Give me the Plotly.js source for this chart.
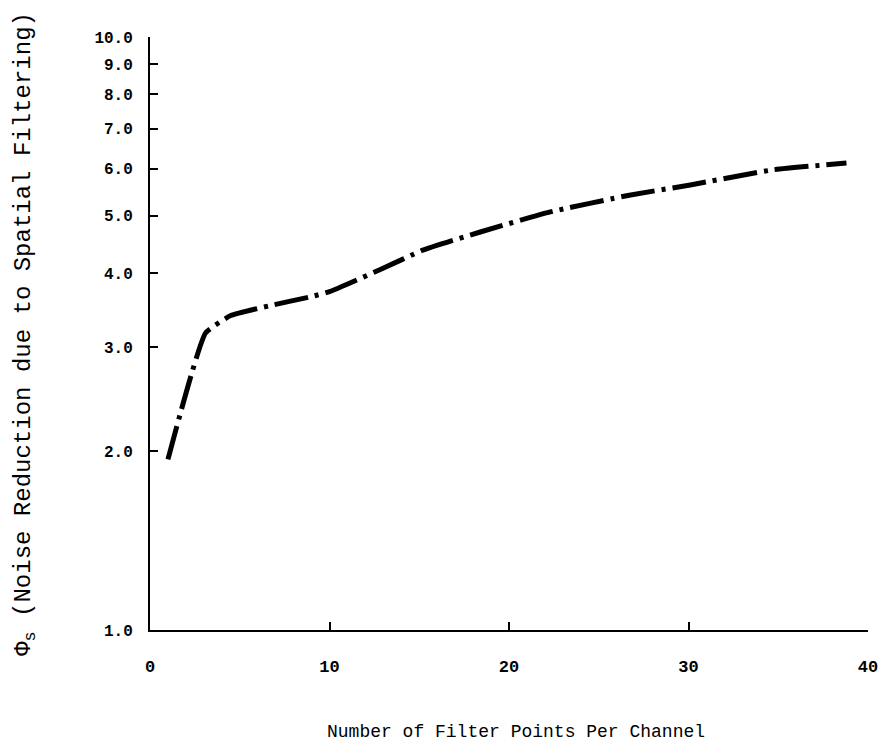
<!DOCTYPE html>
<html>
<head>
<meta charset="utf-8">
<script src="https://cdn.plot.ly/plotly-3.0.1.min.js"></script>
<style>html,body{margin:0;padding:0;background:#fff;}#chart{width:885px;height:742px;}</style>
</head>
<body>
<div id="chart"></div>
<script>
// Data
const filterPoints = [1, 3.1, 4.5, 6.8, 9, 10, 12.8, 15.2, 18.4, 22.3, 26.7, 30.1, 34.7, 38.8];
const noiseReduction = [1.94, 3.17, 3.39, 3.53, 3.65, 3.72, 4.05, 4.37, 4.69, 5.07, 5.41, 5.63, 5.97, 6.13];
const yTickVals = [1, 2, 3, 4, 5, 6, 7, 8, 9, 10];
const yTickText = ["1.0", "2.0", "3.0", "4.0", "5.0", "6.0", "7.0", "8.0", "9.0", "10.0"];
const xTickVals = [0, 10, 20, 30, 40];
const xTickText = ["0", "10", "20", "30", "40"];
const xTitle = "Number of Filter Points Per Channel";
const yTitle = "\u03A6<sub>s</sub> (Noise Reduction due to Spatial Filtering)";

const mono = "Liberation Mono, DejaVu Sans Mono, monospace";

const trace = {
  x: filterPoints,
  y: noiseReduction,
  type: "scatter",
  mode: "lines",
  line: {color: "#000", width: 5, dash: "34px,7px,4px,7px", shape: "spline", smoothing: 0.4},
  hoverinfo: "x+y",
  showlegend: false
};

const layout = {
  width: 885,
  height: 742,
  margin: {l: 150, r: 17, t: 37, b: 112},
  paper_bgcolor: "#fff",
  plot_bgcolor: "#fff",
  font: {family: mono, color: "#000"},
  xaxis: {
    range: [0, 40],
    tickvals: xTickVals,
    ticktext: xTickText,
    ticks: "inside",
    ticklen: 8,
    tickwidth: 2,
    tickcolor: "#000",
    showline: true,
    linecolor: "#000",
    linewidth: 2,
    showgrid: false,
    zeroline: false,
    ticklabelstandoff: 20,
    tickfont: {family: mono, size: 17, color: "#000", weight: "bold"}
  },
  yaxis: {
    type: "log",
    range: [0, 1],
    tickvals: yTickVals,
    ticktext: yTickText,
    ticks: "inside",
    ticklen: 8,
    tickwidth: 2,
    tickcolor: "#000",
    showline: true,
    linecolor: "#000",
    linewidth: 2,
    showgrid: false,
    zeroline: false,
    ticklabelstandoff: 12,
    tickfont: {family: mono, size: 16, color: "#000", weight: "bold"}
  },
  annotations: [
    {
      text: xTitle,
      xref: "paper", yref: "paper",
      x: 0.51, y: -0.172,
      xanchor: "center", yanchor: "middle",
      showarrow: false,
      font: {family: mono, size: 18, color: "#000"}
    },
    {
      text: yTitle,
      xref: "paper", yref: "paper",
      x: -0.175, y: 0.5,
      xanchor: "center", yanchor: "middle",
      textangle: -90,
      showarrow: false,
      font: {family: mono, size: 24, color: "#000"}
    }
  ]
};

Plotly.newPlot("chart", [trace], layout, {staticPlot: true});
</script>
</body>
</html>
